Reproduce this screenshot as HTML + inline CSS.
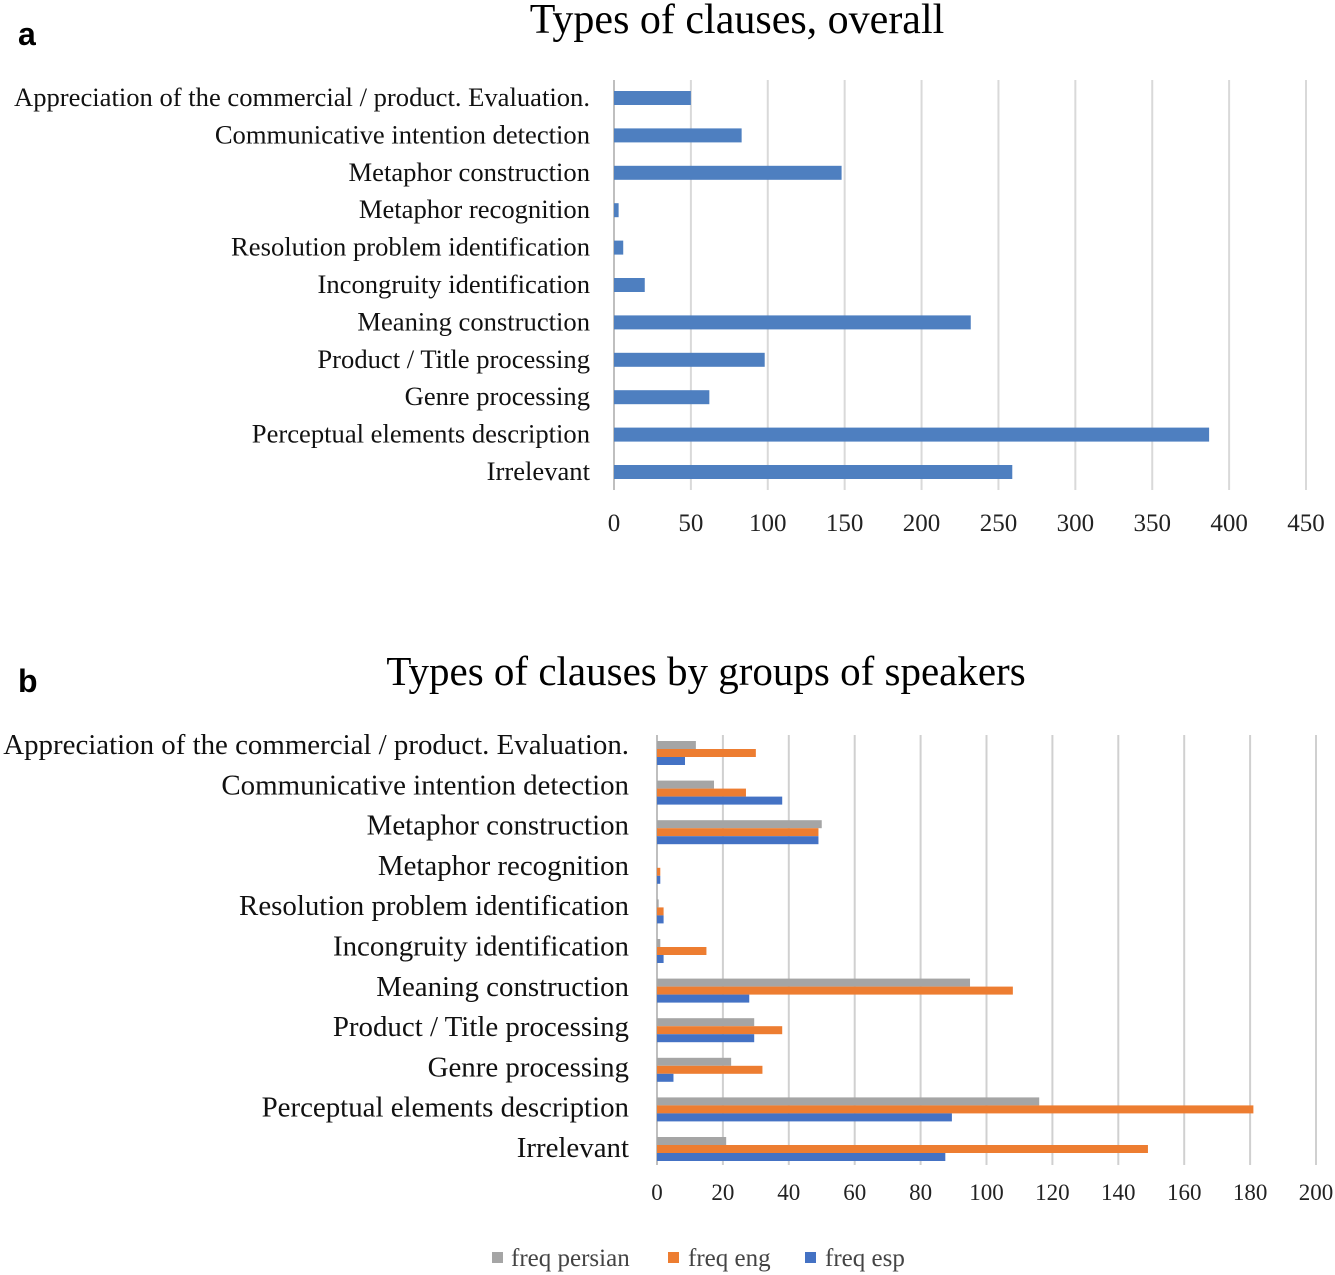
<!DOCTYPE html>
<html><head><meta charset="utf-8"><style>
body{margin:0;background:#fff;}
svg{display:block;font-family:"Liberation Serif",serif;}
</style></head><body>
<svg id="s" width="1335" height="1275">
<text x="18" y="45" font-family="Liberation Sans" font-weight="bold" font-size="32">a</text>
<text x="737" y="33" text-anchor="middle" font-size="42">Types of clauses, overall</text>
<text x="18" y="692" font-family="Liberation Sans" font-weight="bold" font-size="32">b</text>
<text x="706" y="685" text-anchor="middle" font-size="41">Types of clauses by groups of speakers</text>
<g id="ga"></g><g id="gb"></g>
<g>
<rect x="492" y="1252" width="11" height="11" fill="#a5a5a5"/>
<text x="511" y="1266" font-size="25" fill="#444">freq persian</text>
<rect x="668" y="1252" width="11" height="11" fill="#ed7d31"/>
<text x="688" y="1266" font-size="25" fill="#444">freq eng</text>
<rect x="805" y="1252" width="11" height="11" fill="#4472c4"/>
<text x="825" y="1266" font-size="25" fill="#444">freq esp</text>
</g>
</svg>
<script>
const categories=["Appreciation of the commercial / product. Evaluation.","Communicative intention detection","Metaphor construction","Metaphor recognition","Resolution problem identification","Incongruity identification","Meaning construction","Product / Title processing","Genre processing","Perceptual elements description","Irrelevant"];
const overall=[50,83,148,3,6,20,232,98,62,387,259];
const ticksA=[0,50,100,150,200,250,300,350,400,450];
const persian=[11.8,17.3,50,0,0.5,1,95,29.5,22.5,116,21];
const eng=[30,27,49,1,2,15,108,38,32,181,149];
const esp=[8.5,38,49,1,2,2,28,29.5,5,89.5,87.5];
const ticksB=[0,20,40,60,80,100,120,140,160,180,200];
const NS="http://www.w3.org/2000/svg";
function mk(p,t,a,txt){const e=document.createElementNS(NS,t);for(const k in a)e.setAttribute(k,a[k]);if(txt!==undefined)e.textContent=txt;p.appendChild(e);return e;}
// chart a
const ga=document.getElementById('ga');
const xa=v=>614+v*(1306-614)/450, ya=i=>98+i*37.4;
ticksA.forEach(t=>{if(t>0){const g=mk(ga,'line',{x1:xa(t),x2:xa(t),y1:80,y2:490,stroke:'#d9d9d9','stroke-width':2});

}
const l=mk(ga,'text',{x:xa(t),y:531,'text-anchor':'middle','font-size':25,fill:'#222'},t);

});
const axA=mk(ga,'line',{x1:614,x2:614,y1:80,y2:490,stroke:'#bfbfbf','stroke-width':2});


categories.forEach((c,i)=>{
const l=mk(ga,'text',{x:590,y:ya(i)+8,'text-anchor':'end','font-size':26.6,fill:'#111'},c);


const b=mk(ga,'rect',{x:xa(0),y:ya(i)-7,width:xa(overall[i])-xa(0),height:14,fill:'#4e7fc0'});

});
// chart b
const gb=document.getElementById('gb');
const xb=v=>657+v*(1316-657)/200, yb=i=>753+i*39.6, yl=i=>754+i*40.3;
ticksB.forEach(t=>{if(t>0){const g=mk(gb,'line',{x1:xb(t),x2:xb(t),y1:735,y2:1165,stroke:'#d0d0d0','stroke-width':2});

}
const l=mk(gb,'text',{x:xb(t),y:1200,'text-anchor':'middle','font-size':23,fill:'#222'},t);

});
const axB=mk(gb,'line',{x1:657,x2:657,y1:735,y2:1165,stroke:'#bfbfbf','stroke-width':2});


const series=[[persian,'#a5a5a5',-12,'bar-persian'],[eng,'#ed7d31',-4,'bar-eng'],[esp,'#4472c4',4,'bar-esp']];
categories.forEach((c,i)=>{
const l=mk(gb,'text',{x:629,y:yl(i),'text-anchor':'end','font-size':28.9,fill:'#111'},c);


series.forEach(s=>{const b=mk(gb,'rect',{x:xb(0),y:yb(i)+s[2],width:Math.max(0,xb(s[0][i])-xb(0)),height:8,fill:s[1]});

});});
</script>
</body></html>
